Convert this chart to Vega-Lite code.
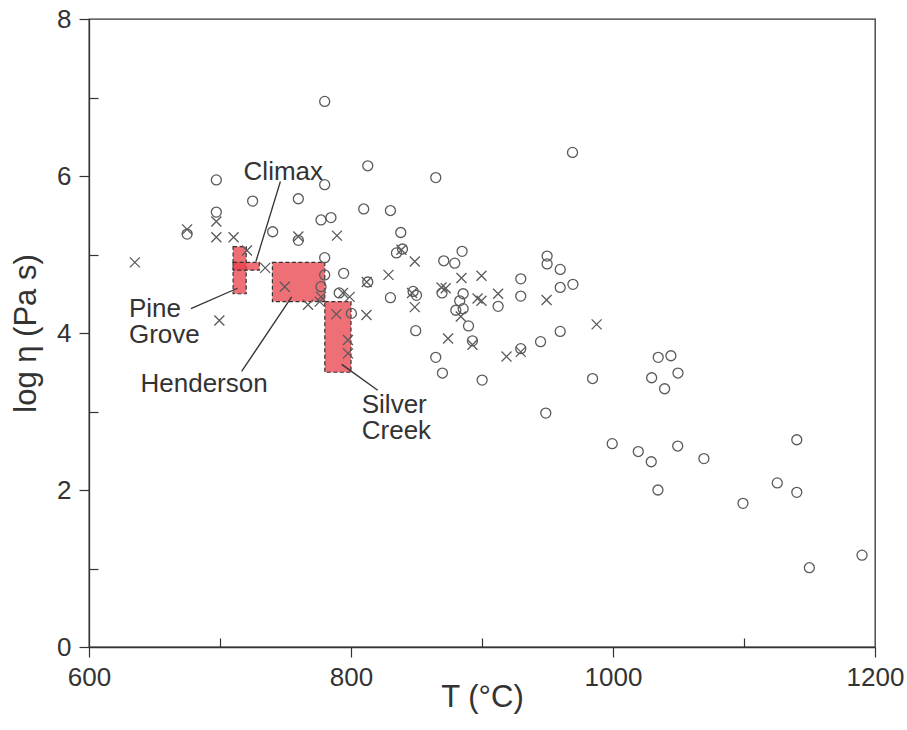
{
  "$schema": "https://vega.github.io/schema/vega-lite/v6.json",
  "width": 786,
  "height": 628,
  "autosize": {"type": "none"},
  "padding": {"left": 89, "top": 19, "right": 32, "bottom": 83},
  "background": "white",
  "config": {
    "view": {"stroke": "#333", "strokeWidth": 1.3},
    "font": "Liberation Sans"
  },
  "datasets": {
    "boxes": [
      {"site": "Silver Creek", "T": 780, "T2": 800, "eta": 3.5, "eta2": 4.4},
      {"site": "Henderson", "T": 740, "T2": 780, "eta": 4.4, "eta2": 4.9},
      {"site": "Pine Grove", "T": 710, "T2": 720, "eta": 4.5, "eta2": 5.1},
      {"site": "Climax", "T": 710, "T2": 730, "eta": 4.8, "eta2": 4.9}
    ],
    "leaders": [
      {"site": "Climax", "T": 746.1, "eta": 5.93, "T2": 727.4, "eta2": 4.91},
      {"site": "Pine Grove", "T": 677.8, "eta": 4.31, "T2": 713.4, "eta2": 4.57},
      {"site": "Henderson", "T": 716.5, "eta": 3.51, "T2": 754.7, "eta2": 4.46},
      {"site": "Silver Creek", "T": 792.9, "eta": 3.6, "T2": 820.4, "eta2": 3.27}
    ],
    "labels": [
      {"label": "Climax", "T": 718, "eta": 5.95},
      {"label": "Pine\nGrove", "T": 630.5, "eta": 4.2},
      {"label": "Henderson", "T": 639.3, "eta": 3.25},
      {"label": "Silver\nCreek", "T": 808.2, "eta": 2.98}
    ],
    "pts": [
      {"T": 779.9, "eta": 6.95, "type": "o"}, {"T": 697.2, "eta": 5.95, "type": "o"}, {"T": 724.9, "eta": 5.68, "type": "o"},
      {"T": 759.8, "eta": 5.71, "type": "o"}, {"T": 779.9, "eta": 5.89, "type": "o"}, {"T": 697.2, "eta": 5.54, "type": "o"},
      {"T": 777.1, "eta": 5.44, "type": "o"}, {"T": 784.7, "eta": 5.47, "type": "o"}, {"T": 740.2, "eta": 5.29, "type": "o"},
      {"T": 674.9, "eta": 5.26, "type": "o"}, {"T": 759.8, "eta": 5.18, "type": "o"}, {"T": 779.9, "eta": 4.96, "type": "o"},
      {"T": 779.9, "eta": 4.74, "type": "o"}, {"T": 794.4, "eta": 4.76, "type": "o"}, {"T": 777.1, "eta": 4.59, "type": "o"},
      {"T": 791, "eta": 4.51, "type": "o"}, {"T": 800.3, "eta": 4.25, "type": "o"}, {"T": 812.8, "eta": 4.65, "type": "o"},
      {"T": 830.1, "eta": 4.45, "type": "o"}, {"T": 812.8, "eta": 6.13, "type": "o"}, {"T": 864.7, "eta": 5.98, "type": "o"},
      {"T": 969.1, "eta": 6.3, "type": "o"}, {"T": 809.7, "eta": 5.58, "type": "o"}, {"T": 830.1, "eta": 5.56, "type": "o"},
      {"T": 838, "eta": 5.28, "type": "o"}, {"T": 834.7, "eta": 5.02, "type": "o"}, {"T": 839.3, "eta": 5.07, "type": "o"},
      {"T": 870.8, "eta": 4.92, "type": "o"}, {"T": 879.2, "eta": 4.89, "type": "o"}, {"T": 884.8, "eta": 5.04, "type": "o"},
      {"T": 949.7, "eta": 4.98, "type": "o"}, {"T": 949.7, "eta": 4.88, "type": "o"}, {"T": 959.7, "eta": 4.81, "type": "o"},
      {"T": 969.4, "eta": 4.62, "type": "o"}, {"T": 959.7, "eta": 4.58, "type": "o"}, {"T": 929.6, "eta": 4.69, "type": "o"},
      {"T": 929.6, "eta": 4.47, "type": "o"}, {"T": 912.3, "eta": 4.34, "type": "o"}, {"T": 885.6, "eta": 4.5, "type": "o"},
      {"T": 883, "eta": 4.41, "type": "o"}, {"T": 880, "eta": 4.29, "type": "o"}, {"T": 885.6, "eta": 4.31, "type": "o"},
      {"T": 889.7, "eta": 4.09, "type": "o"}, {"T": 869.5, "eta": 4.51, "type": "o"}, {"T": 850, "eta": 4.48, "type": "o"},
      {"T": 847.4, "eta": 4.53, "type": "o"}, {"T": 849.4, "eta": 4.03, "type": "o"}, {"T": 892.7, "eta": 3.9, "type": "o"},
      {"T": 864.7, "eta": 3.69, "type": "o"}, {"T": 869.8, "eta": 3.49, "type": "o"}, {"T": 900.1, "eta": 3.4, "type": "o"},
      {"T": 929.6, "eta": 3.8, "type": "o"}, {"T": 944.7, "eta": 3.89, "type": "o"}, {"T": 959.7, "eta": 4.02, "type": "o"},
      {"T": 984.4, "eta": 3.42, "type": "o"}, {"T": 1034.5, "eta": 3.69, "type": "o"}, {"T": 1044.2, "eta": 3.71, "type": "o"},
      {"T": 1029.5, "eta": 3.43, "type": "o"}, {"T": 1049.6, "eta": 3.49, "type": "o"}, {"T": 1039.4, "eta": 3.29, "type": "o"},
      {"T": 948.7, "eta": 2.98, "type": "o"}, {"T": 999.4, "eta": 2.59, "type": "o"}, {"T": 1019.3, "eta": 2.49, "type": "o"},
      {"T": 1029.2, "eta": 2.36, "type": "o"}, {"T": 1049.4, "eta": 2.56, "type": "o"}, {"T": 1069.4, "eta": 2.4, "type": "o"},
      {"T": 1034.3, "eta": 2.0, "type": "o"}, {"T": 1140.3, "eta": 2.64, "type": "o"}, {"T": 1125.4, "eta": 2.09, "type": "o"},
      {"T": 1140.3, "eta": 1.97, "type": "o"}, {"T": 1099.2, "eta": 1.83, "type": "o"}, {"T": 1149.9, "eta": 1.01, "type": "o"},
      {"T": 1190.1, "eta": 1.17, "type": "o"},
      {"T": 635, "eta": 4.9, "type": "x"}, {"T": 674.9, "eta": 5.32, "type": "x"}, {"T": 697.2, "eta": 5.42, "type": "x"},
      {"T": 697.2, "eta": 5.22, "type": "x"}, {"T": 710.4, "eta": 5.22, "type": "x"}, {"T": 720.6, "eta": 5.05, "type": "x"},
      {"T": 734.5, "eta": 4.83, "type": "x"}, {"T": 759.8, "eta": 5.23, "type": "x"}, {"T": 789.3, "eta": 5.24, "type": "x"},
      {"T": 749.4, "eta": 4.59, "type": "x"}, {"T": 777.1, "eta": 4.46, "type": "x"}, {"T": 767.2, "eta": 4.36, "type": "x"},
      {"T": 776.1, "eta": 4.4, "type": "x"}, {"T": 793.9, "eta": 4.51, "type": "x"}, {"T": 799, "eta": 4.46, "type": "x"},
      {"T": 788.8, "eta": 4.24, "type": "x"}, {"T": 797.7, "eta": 3.91, "type": "x"}, {"T": 797.7, "eta": 3.74, "type": "x"},
      {"T": 811.8, "eta": 4.23, "type": "x"}, {"T": 812, "eta": 4.65, "type": "x"}, {"T": 828.6, "eta": 4.74, "type": "x"},
      {"T": 838.5, "eta": 5.06, "type": "x"}, {"T": 848.7, "eta": 4.91, "type": "x"}, {"T": 846.6, "eta": 4.51, "type": "x"},
      {"T": 848.7, "eta": 4.33, "type": "x"}, {"T": 869.1, "eta": 4.58, "type": "x"}, {"T": 872.3, "eta": 4.57, "type": "x"},
      {"T": 884.3, "eta": 4.7, "type": "x"}, {"T": 899.6, "eta": 4.73, "type": "x"}, {"T": 896.6, "eta": 4.44, "type": "x"},
      {"T": 899.6, "eta": 4.41, "type": "x"}, {"T": 912.3, "eta": 4.5, "type": "x"}, {"T": 949.3, "eta": 4.42, "type": "x"},
      {"T": 987.5, "eta": 4.11, "type": "x"}, {"T": 883.8, "eta": 4.21, "type": "x"}, {"T": 874.1, "eta": 3.93, "type": "x"},
      {"T": 892.7, "eta": 3.85, "type": "x"}, {"T": 918.7, "eta": 3.7, "type": "x"}, {"T": 929.6, "eta": 3.76, "type": "x"},
      {"T": 699.5, "eta": 4.16, "type": "x"}
    ]
  },
  "layer": [
    {
      "data": {"name": "boxes"},
      "mark": {"type": "rect", "fill": "#ea3f4a", "fillOpacity": 0.75, "stroke": "#333", "strokeWidth": 1.2, "strokeDash": [4, 2.5]},
      "encoding": {
        "x": {
          "field": "T", "type": "quantitative",
          "scale": {"domain": [600, 1200], "nice": false, "zero": false},
          "axis": {
            "title": "T (°C)",
            "values": [600, 700, 800, 900, 1000, 1100, 1200],
            "format": "d",
            "labelFlush": false,
            "labelExpr": "datum.value % 200 === 0 ? datum.label : ''",
            "tickSize": {"condition": {"test": "datum.value % 200 === 0", "value": 10}, "value": -9},
            "grid": false,
            "domainColor": "#333", "domainWidth": 1.3,
            "tickColor": "#333", "tickWidth": 1.2,
            "labelFont": "Liberation Sans", "labelFontSize": 26, "labelColor": "#333", "labelPadding": 7,
            "titleFont": "Liberation Sans", "titleFontSize": 31, "titleFontWeight": "normal", "titleColor": "#333", "titlePadding": -8
          }
        },
        "x2": {"field": "T2"},
        "y": {
          "field": "eta", "type": "quantitative",
          "scale": {"domain": [0, 8], "nice": false, "zero": false},
          "axis": {
            "title": "log η (Pa s)",
            "values": [0, 1, 2, 3, 4, 5, 6, 7, 8],
            "format": "d",
            "labelFlush": false,
            "labelExpr": "datum.value % 2 === 0 ? datum.label : ''",
            "tickSize": {"condition": {"test": "datum.value % 2 === 0", "value": 10}, "value": -9},
            "grid": false,
            "domainColor": "#333", "domainWidth": 1.3,
            "tickColor": "#333", "tickWidth": 1.2,
            "labelFont": "Liberation Sans", "labelFontSize": 26, "labelColor": "#333", "labelPadding": 8,
            "titleFont": "Liberation Sans", "titleFontSize": 31, "titleFontWeight": "normal", "titleColor": "#333", "titlePadding": 14
          }
        },
        "y2": {"field": "eta2"}
      }
    },
    {
      "data": {"name": "leaders"},
      "mark": {"type": "rule", "color": "#333", "strokeWidth": 1.3},
      "encoding": {
        "x": {"field": "T", "type": "quantitative"},
        "x2": {"field": "T2"},
        "y": {"field": "eta", "type": "quantitative"},
        "y2": {"field": "eta2"}
      }
    },
    {
      "data": {"name": "pts"},
      "mark": {"type": "point", "filled": false, "size": 100, "strokeWidth": 1.3, "color": "#5a5a5a", "opacity": 1},
      "encoding": {
        "x": {"field": "T", "type": "quantitative"},
        "y": {"field": "eta", "type": "quantitative"},
        "shape": {
          "field": "type", "type": "nominal",
          "scale": {"domain": ["o", "x"], "range": ["circle", "M-1,-1L1,1M-1,1L1,-1"]},
          "legend": null
        }
      }
    },
    {
      "data": {"name": "labels"},
      "mark": {"type": "text", "align": "left", "baseline": "alphabetic", "fontSize": 26, "lineHeight": 26, "lineBreak": "\n", "font": "Liberation Sans", "color": "#333"},
      "encoding": {
        "x": {"field": "T", "type": "quantitative"},
        "y": {"field": "eta", "type": "quantitative"},
        "text": {"field": "label"}
      }
    }
  ]
}
